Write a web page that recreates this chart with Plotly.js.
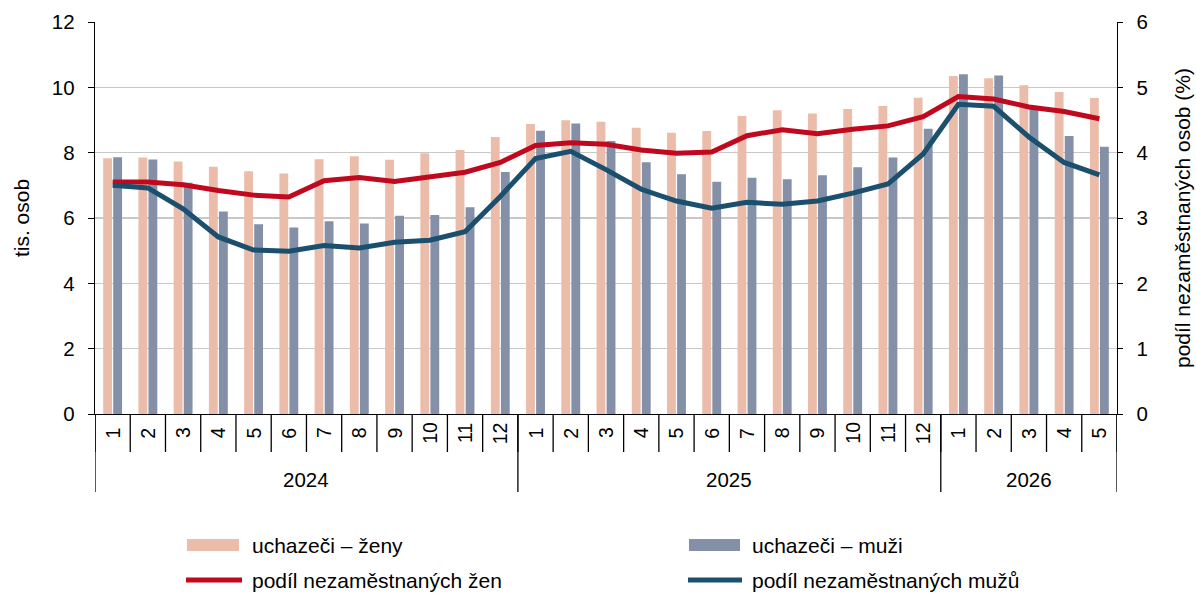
<!DOCTYPE html>
<html><head><meta charset="utf-8">
<script src="https://cdn.plot.ly/plotly-3.0.1.min.js"></script>
<style>html,body{margin:0;padding:0;background:#fff}#chart{width:1196px;height:593px}</style>
</head><body><div id="chart"></div>
<script>
const years = ["2024","2025","2026"];
const monthsPerYear = [12,12,5];
const monthLabels = ["1","2","3","4","5","6","7","8","9","10","11","12","1","2","3","4","5","6","7","8","9","10","11","12","1","2","3","4","5"];
const seriesNames = ["uchazeči – ženy","uchazeči – muži","podíl nezaměstnaných žen","podíl nezaměstnaných mužů"];
const womenCount = [7.83,7.85,7.73,7.57,7.43,7.36,7.80,7.89,7.78,7.98,8.08,8.48, 8.88,8.99,8.95,8.76,8.61,8.66,9.12,9.30,9.20,9.34,9.43,9.68, 10.35,10.28,10.06,9.86,9.67];
const menCount   = [7.86,7.79,7.08,6.20,5.81,5.71,5.90,5.83,6.07,6.09,6.33,7.41, 8.67,8.89,8.36,7.71,7.34,7.11,7.23,7.19,7.31,7.55,7.85,8.73, 10.40,10.36,9.35,8.51,8.18];
const womenShare = [3.55,3.55,3.51,3.42,3.35,3.32,3.57,3.62,3.56,3.63,3.70,3.85, 4.11,4.15,4.13,4.04,3.99,4.01,4.26,4.35,4.29,4.36,4.41,4.55, 4.86,4.82,4.70,4.63,4.52];
const menShare   = [3.50,3.46,3.14,2.71,2.51,2.49,2.58,2.54,2.63,2.66,2.79,3.33, 3.91,4.02,3.74,3.44,3.26,3.15,3.24,3.21,3.26,3.38,3.52,3.98, 4.74,4.71,4.24,3.85,3.66];

const colors = {women:"#ebbcaa", men:"#8390a8", wline:"#c0081f", mline:"#1a4f6e"};
const FONT = "Liberation Sans, Arial, sans-serif";
const TS = 20.5, LS = 21;
const idx = monthLabels.map((_,i)=>i);

const W=1196,H=593,L=95,R=79,T=22,B=179;
const pw=W-L-R, ph=H-T-B;
const px=x=>(x-L)/pw, py=y=>(H-B-y)/ph;

const traces = [
 {type:"bar", x:idx, y:womenCount, name:seriesNames[0], marker:{color:colors.women}, yaxis:"y"},
 {type:"bar", x:idx, y:menCount, name:seriesNames[1], marker:{color:colors.men}, yaxis:"y"},
 {type:"scatter", mode:"lines", x:idx, y:womenShare, name:seriesNames[2], line:{color:colors.wline,width:5}, yaxis:"y2"},
 {type:"scatter", mode:"lines", x:idx, y:menShare, name:seriesNames[3], line:{color:colors.mline,width:5}, yaxis:"y2"}
];

const shapes=[], annotations=[];
for(let i=0;i<=monthLabels.length;i++){
  shapes.push({type:"line",xref:"x",yref:"paper",x0:i-0.5,x1:i-0.5,y0:0,y1:py(452),line:{color:"#000",width:1.3}});
}
let start=0;
const bounds=[-0.5];
monthsPerYear.forEach((n,k)=>{
  annotations.push({xref:"x",yref:"paper",x:start+(n-1)/2,y:py(479),text:years[k],showarrow:false,font:{family:FONT,size:TS,color:"#000"},yanchor:"middle"});
  start+=n; bounds.push(start-0.5);
});
bounds.forEach(b=>shapes.push({type:"line",xref:"x",yref:"paper",x0:b,x1:b,y0:0,y1:py(492),line:{color:"#000",width:1.3}}));
monthLabels.forEach((m,i)=>{
  annotations.push({xref:"x",yref:"paper",x:i,y:py(433),text:m,textangle:-90,showarrow:false,font:{family:FONT,size:19.5,color:"#000"},xanchor:"center",yanchor:"middle"});
});
const leg=[
 {kind:"bar",color:colors.women,x0:187,x1:239,y:545,tx:250,name:seriesNames[0]},
 {kind:"bar",color:colors.men,x0:689,x1:740,y:545,tx:750,name:seriesNames[1]},
 {kind:"line",color:colors.wline,x0:186,x1:242,y:580,tx:250,name:seriesNames[2]},
 {kind:"line",color:colors.mline,x0:688,x1:742,y:580,tx:750,name:seriesNames[3]}
];
leg.forEach(e=>{
  if(e.kind==="bar"){
    shapes.push({type:"rect",xref:"paper",yref:"paper",x0:px(e.x0),x1:px(e.x1),y0:py(e.y+6),y1:py(e.y-6),fillcolor:e.color,line:{width:0}});
  } else {
    shapes.push({type:"line",xref:"paper",yref:"paper",x0:px(e.x0),x1:px(e.x1),y0:py(e.y),y1:py(e.y),line:{color:e.color,width:5}});
  }
  annotations.push({xref:"paper",yref:"paper",x:px(e.tx),y:py(e.y),text:e.name,showarrow:false,xanchor:"left",yanchor:"middle",font:{family:FONT,size:LS,color:"#000"}});
});

const layout={
  width:W,height:H,margin:{l:L,r:R,t:T,b:B,pad:0},
  paper_bgcolor:"#fff",plot_bgcolor:"#fff",
  font:{family:FONT,size:TS,color:"#000"},
  showlegend:false,
  barmode:"group",bargap:0.43,bargroupgap:0.12,
  xaxis:{range:[-0.5,monthLabels.length-0.5],showticklabels:false,ticks:"",showgrid:false,zeroline:false,showline:true,linecolor:"#000",linewidth:1.3,fixedrange:true},
  yaxis:{range:[0,12],dtick:2,tick0:0,showgrid:true,gridcolor:"#c8c8c8",gridwidth:1.3,zeroline:false,showline:true,linecolor:"#000",linewidth:1.3,ticks:"outside",ticklen:6,tickcolor:"#000",ticklabelstandoff:9,
    tickfont:{family:FONT,size:TS},title:{text:"tis. osob",font:{family:FONT,size:LS},standoff:16}},
  yaxis2:{range:[0,6],dtick:1,tick0:0,overlaying:"y",side:"right",showgrid:false,zeroline:false,showline:true,linecolor:"#000",linewidth:1.3,ticks:"outside",ticklen:5,tickcolor:"#000",ticklabelstandoff:9,
    tickfont:{family:FONT,size:TS},title:{text:"podíl nezaměstnaných osob (%)",font:{family:FONT,size:LS},standoff:28}},
  shapes:shapes,annotations:annotations
};
Plotly.newPlot("chart",traces,layout,{displayModeBar:false,staticPlot:true});
</script></body></html>
